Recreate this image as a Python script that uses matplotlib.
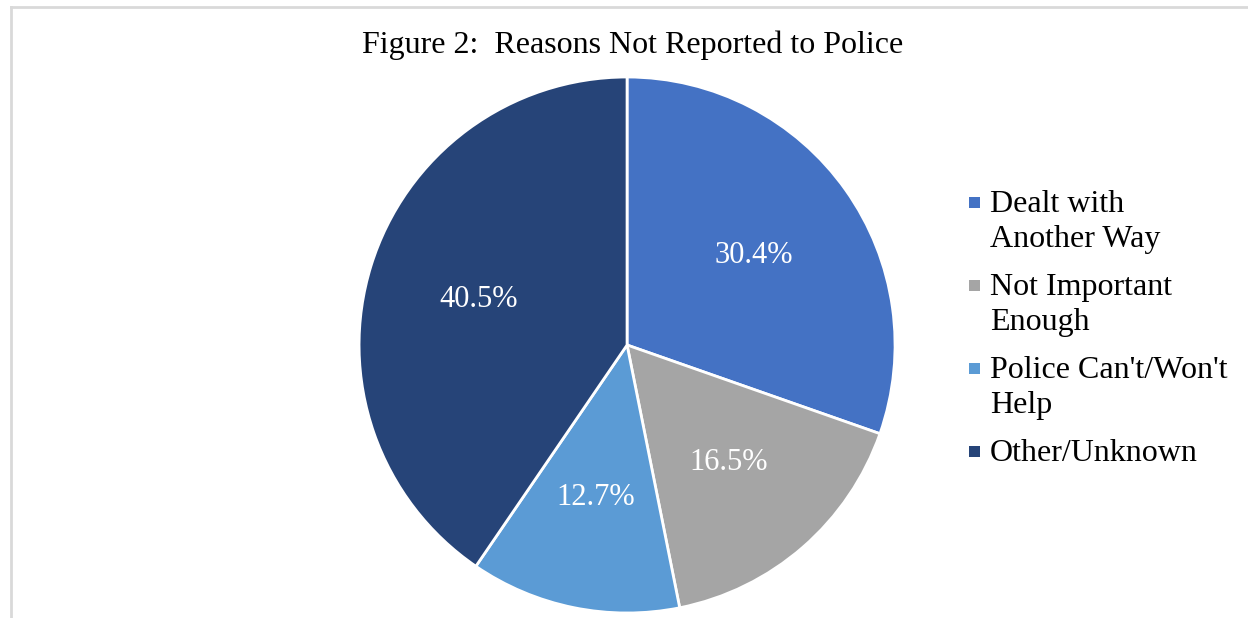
import matplotlib.pyplot as plt
from matplotlib.lines import Line2D
from matplotlib.patches import Rectangle

plt.rcParams['font.family'] = ['Liberation Serif', 'DejaVu Serif']

# Data
reasons = ['Dealt with\nAnother Way', 'Not Important\nEnough',
           "Police Can't/Won't\nHelp", 'Other/Unknown']
shares = [30.4, 16.5, 12.7, 40.5]
colors = ['#4472C4', '#A5A5A5', '#5B9BD5', '#264478']

W, H = 1248, 618
fig = plt.figure(figsize=(W / 100, H / 100), dpi=100)

# chart area frame (light gray, top and left only visible)
fig.add_artist(Line2D([11 / W, 11 / W], [0, 1 - 7 / H], color='#D9D9D9', lw=2))
fig.add_artist(Line2D([11 / W, 1], [1 - 7 / H, 1 - 7 / H], color='#D9D9D9', lw=2))

ax = fig.add_axes([0.2877, 0.0081, 0.4295, 0.8673])
wedges, texts, autotexts = ax.pie(
    shares, colors=colors, startangle=90, counterclock=False,
    autopct='%.1f%%', pctdistance=0.58,
    wedgeprops=dict(edgecolor='white', linewidth=2),
    textprops=dict(color='white', fontsize=22))
ax.set_xlim(-1, 1)
ax.set_ylim(-1, 1)
ax.set_aspect('equal')

fig.text(0.507, 0.927, 'Figure 2:  Reasons Not Reported to Police',
         ha='center', va='center', fontsize=23)

# legend, drawn entry by entry so the marker sits on the first line
baseline = 212
for w, label in zip(wedges, reasons):
    y = 1 - baseline / H
    fig.add_artist(Rectangle((969 / W, y + 4 / H), 11 / W, 11 / H,
                             transform=fig.transFigure,
                             facecolor=w.get_facecolor(), edgecolor='none'))
    for i, line in enumerate(label.split('\n')):
        fig.text(990 / W, y - i * 35 / H, line, ha='left', va='baseline',
                 fontsize=23)
    baseline += 83

plt.savefig('out.png', dpi=100)
